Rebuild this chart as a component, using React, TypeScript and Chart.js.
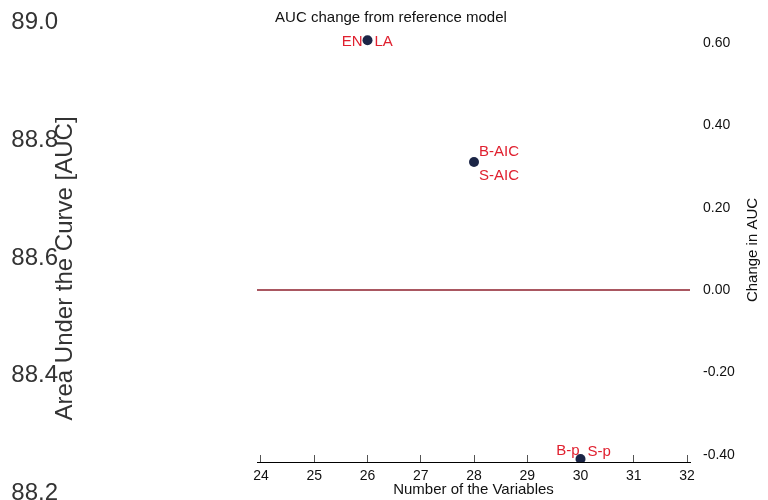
import React, { useEffect, useRef } from "react";
import { Chart, registerables } from "chart.js";

Chart.register(...registerables);
Chart.defaults.font.family = "'Liberation Sans', Arial, Helvetica, sans-serif";

// ---- data ----
const varCounts = [26, 28, 30];
const aucChange = [0.607, 0.311, -0.41];
const firstLabels = ["EN", "B-AIC", "B-p"];
const secondLabels = ["LA", "S-AIC", "S-p"];
const xTickValues = [24, 25, 26, 27, 28, 29, 30, 31, 32];
const changeTickValues = [0.6, 0.4, 0.2, 0, -0.2, -0.4];
const aucTickValues = [89.0, 88.8, 88.6, 88.4, 88.2];
const referenceChange = 0;
const chartTitle = "AUC change from reference model";
const xTitle = "Number of the Variables";
const rightTitle = "Change in AUC";
const leftTitle = "Area Under the Curve [AUC]";

// ---- view ranges ----
const X_MIN = 23.925;
const X_MAX = 32.056;
const Y_MIN = -0.4175;
const Y_MAX = 0.6318;
const AUC_MIN = 88.1643;
const AUC_MAX = 89.0;

const LABEL_COLOR = "#e0202f";
const TEXT = "#111";

// label placement relative to each point (layout only)
const placements = [
  [{ dx: -5, dy: 1.5, align: "right" }, { dx: 7, dy: 1.5, align: "left" }],
  [{ dx: 5, dy: -10.5, align: "left" }, { dx: 5, dy: 13.5, align: "left" }],
  [{ dx: -1, dy: -8, align: "right" }, { dx: 7, dy: -7, align: "left" }],
];

const labelPlugin = {
  id: "pointLabels",
  beforeDatasetsDraw(chart: any) {
    const meta = chart.getDatasetMeta(1);
    const ctx = chart.ctx;
    ctx.save();
    ctx.font = "15px 'Liberation Sans', Arial, sans-serif";
    ctx.fillStyle = LABEL_COLOR;
    ctx.textBaseline = "middle";
    meta.data.forEach((el: any, i: number) => {
      const texts = [firstLabels[i], secondLabels[i]];
      texts.forEach((t, j) => {
        const p = placements[i][j];
        ctx.textAlign = p.align;
        ctx.fillText(t, el.x + p.dx, el.y + p.dy);
      });
    });
    ctx.restore();
  },
  afterDraw(chart: any) {
    const ctx = chart.ctx;
    const yScale = chart.scales.y;
    ctx.save();
    ctx.translate(752.5, (yScale.top + yScale.bottom) / 2 + 4);
    ctx.rotate(-Math.PI / 2);
    ctx.font = "15px 'Liberation Sans', Arial, sans-serif";
    ctx.fillStyle = TEXT;
    ctx.textAlign = "center";
    ctx.textBaseline = "middle";
    ctx.fillText(rightTitle, 0, 0);
    ctx.restore();
  },
};

export default function App() {
  const bgRef = useRef<HTMLCanvasElement>(null);
  const fgRef = useRef<HTMLCanvasElement>(null);

  useEffect(() => {
    const bg = new Chart(bgRef.current as HTMLCanvasElement, {
      type: "scatter",
      data: { datasets: [] },
      options: {
        responsive: false,
        animation: false,
        events: [],
        layout: { padding: { top: 22.5, bottom: 5.5, left: 0, right: 0 } },
        plugins: { legend: { display: false }, tooltip: { enabled: false } },
        scales: {
          x: { display: false },
          auc: {
            type: "linear",
            position: "left",
            weight: 1,
            min: AUC_MIN,
            max: AUC_MAX,
            afterBuildTicks: (s: any) => {
              s.ticks = aucTickValues.map((v) => ({ value: v }));
            },
            afterFit: (s: any) => {
              s.width = 58;
              s.paddingTop = 0;
              s.paddingBottom = 0;
            },
            grid: { display: false, drawTicks: false },
            border: { display: false },
            ticks: {
              color: "#333",
              font: { size: 24 },
              padding: 0,
              callback: (v: any) => Number(v).toFixed(1),
            },
          },
          aucTitle: {
            type: "linear",
            position: "left",
            weight: 0,
            afterFit: (s: any) => {
              s.width = 24;
              s.paddingTop = 0;
              s.paddingBottom = 0;
            },
            grid: { display: false, drawTicks: false },
            border: { display: false },
            ticks: { display: false },
            title: {
              display: true,
              text: leftTitle,
              color: "#333",
              font: { size: 24, lineHeight: 0.6 },
              padding: 0,
            },
          },
        },
      } as any,
    });

    const fg = new Chart(fgRef.current as HTMLCanvasElement, {
      type: "scatter",
      data: {
        datasets: [
          {
            type: "line",
            data: [
              { x: X_MIN, y: referenceChange },
              { x: X_MAX, y: referenceChange },
            ],
            borderColor: "#8e1f2c",
            borderWidth: 1.5,
            pointRadius: 0,
            xAxisID: "x",
            yAxisID: "y",
          } as any,
          {
            data: varCounts.map((x, i) => ({ x, y: aucChange[i] })),
            pointRadius: 5,
            pointHoverRadius: 5,
            backgroundColor: "#1b2546",
            borderColor: "#1b2546",
            borderWidth: 0,
            xAxisID: "x",
            yAxisID: "y",
          },
        ],
      },
      options: {
        responsive: false,
        animation: false,
        events: [],
        layout: { padding: 0 },
        plugins: {
          legend: { display: false },
          tooltip: { enabled: false },
          title: {
            display: true,
            text: chartTitle,
            color: TEXT,
            align: "center",
            font: { size: 15, lineHeight: 1, weight: "normal" },
            padding: { top: 10, bottom: 5 },
          },
        },
        scales: {
          x: {
            type: "linear",
            position: "bottom",
            min: X_MIN,
            max: X_MAX,
            afterBuildTicks: (s: any) => {
              s.ticks = xTickValues.map((v) => ({ value: v }));
            },
            afterFit: (s: any) => {
              s.height = 38;
            },
            grid: {
              display: true,
              drawOnChartArea: false,
              drawTicks: true,
              tickLength: -7,
              color: "#555",
              lineWidth: 1,
            },
            border: { display: true, color: "#000", width: 1 },
            ticks: {
              color: TEXT,
              font: { size: 14, lineHeight: 1 },
              padding: 14,
              callback: (v: any) => String(v),
            },
            title: {
              display: true,
              text: xTitle,
              color: TEXT,
              font: { size: 15, lineHeight: 1 },
              padding: { top: 0, bottom: 3 },
            },
          },
          y: {
            type: "linear",
            position: "right",
            min: Y_MIN,
            max: Y_MAX,
            afterBuildTicks: (s: any) => {
              s.ticks = changeTickValues.map((v) => ({ value: v }));
            },
            afterFit: (s: any) => {
              s.width = 92;
            },
            grid: { display: false, drawTicks: false },
            border: { display: false },
            ticks: {
              color: TEXT,
              font: { size: 14 },
              padding: 13,
              callback: (v: any) => Number(v).toFixed(2),
            },
          },
          pad: {
            type: "linear",
            position: "left",
            afterFit: (s: any) => {
              s.width = 257;
            },
            grid: { display: false, drawTicks: false },
            border: { display: false },
            ticks: { display: false },
          },
        },
      } as any,
      plugins: [labelPlugin],
    });

    return () => {
      bg.destroy();
      fg.destroy();
    };
  }, []);

  return (
    <div
      style={{
        position: "fixed",
        left: 0,
        top: 0,
        width: 768,
        height: 500,
        overflow: "hidden",
        background: "#fff",
      }}
    >
      <canvas
        ref={bgRef}
        width={768}
        height={520}
        style={{ position: "absolute", left: 0, top: 0, width: 768, height: 520 }}
      />
      <canvas
        ref={fgRef}
        width={782}
        height={500}
        style={{ position: "absolute", left: 0, top: 0, width: 782, height: 500 }}
      />
    </div>
  );
}
